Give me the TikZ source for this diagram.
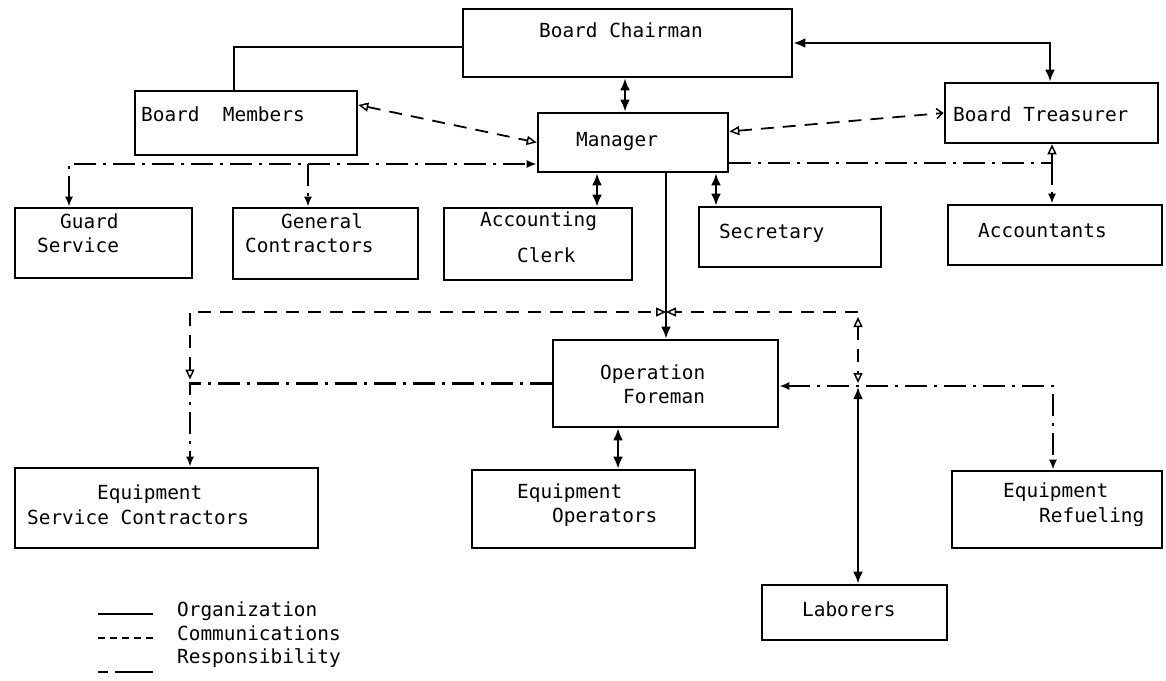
\documentclass[tikz,border=0pt]{standalone}
\usepackage{fontspec}
\newfontfamily\monof{DejaVu Sans Mono}
\usetikzlibrary{arrows.meta}
\begin{document}
\begin{tikzpicture}[x=1pt,y=-1pt,
  box/.style={draw=black, line width=2.6pt, inner sep=0pt},
  txt/.style={anchor=mid west, inner sep=0pt, font=\monof\fontsize{19.4pt}{24pt}\selectfont},
  org/.style={line width=2.6pt},
  comm/.style={line width=1.8pt, dash pattern=on 13pt off 9pt},
  resp/.style={line width=2.1pt, dash pattern=on 22pt off 7pt on 3pt off 7pt},
  ftip/.tip={Latex[length=12pt,width=10pt]},
  rtip/.tip={Latex[length=10pt,width=8pt]},
  otip/.tip={Triangle[open,length=10pt,width=9pt,line width=1.5pt]},
  btip/.tip={Straight Barb[length=6pt,width=10pt,line width=1.5pt]}]
\fill[white] (0,0) rectangle (1166,680);
\useasboundingbox (0,0) rectangle (1166,680);

% boxes
\node[box, minimum width=329pt, minimum height=68pt] (chair) at (627.5,43) {};
\node[box, minimum width=222pt, minimum height=64pt] (bm) at (246,123) {};
\node[box, minimum width=190pt, minimum height=59pt] (mgr) at (633,142.5) {};
\node[box, minimum width=213pt, minimum height=60pt] (treas) at (1051.5,113) {};
\node[box, minimum width=177pt, minimum height=70pt] (guard) at (103.5,243) {};
\node[box, minimum width=185pt, minimum height=71pt] (genc) at (325.5,243.5) {};
\node[box, minimum width=188pt, minimum height=72pt] (acct) at (538,244) {};
\node[box, minimum width=182pt, minimum height=60pt] (sec) at (790,237) {};
\node[box, minimum width=214pt, minimum height=60pt] (accts) at (1055,235) {};
\node[box, minimum width=225pt, minimum height=87pt] (fore) at (665.5,383.5) {};
\node[box, minimum width=303pt, minimum height=80pt] (esc) at (166.5,508) {};
\node[box, minimum width=223pt, minimum height=78pt] (eqop) at (583.5,509) {};
\node[box, minimum width=210pt, minimum height=77pt] (refuel) at (1057,509.5) {};
\node[box, minimum width=185pt, minimum height=55pt] (lab) at (854.5,612.5) {};

% texts
\node[txt] (tchair) at (539,35) {Board Chairman};
\node[txt] (tbm) at (141,119) {Board\ \ Members};
\node[txt] (tmgr) at (576,144) {Manager};
\node[txt] (ttreas) at (953,119) {Board Treasurer};
\node[txt] (tguard1) at (60,226) {Guard};
\node[txt] (tguard2) at (37,250) {Service};
\node[txt] (tgenc1) at (281,226) {General};
\node[txt] (tgenc2) at (245,250) {Contractors};
\node[txt] (tacct1) at (480,224) {Accounting};
\node[txt] (tacct2) at (517,260) {Clerk};
\node[txt] (tsec) at (719,236) {Secretary};
\node[txt] (taccts) at (978,235) {Accountants};
\node[txt] (tfore1) at (600,377) {Operation};
\node[txt] (tfore2) at (623,401) {Foreman};
\node[txt] (tesc1) at (97,497) {Equipment};
\node[txt] (tesc2) at (27,522) {Service Contractors};
\node[txt] (teqop1) at (517,496) {Equipment};
\node[txt] (teqop2) at (552,520) {Operators};
\node[txt] (tref1) at (1003,495) {Equipment};
\node[txt] (tref2) at (1039,520) {Refueling};
\node[txt] (tlab) at (802,614) {Laborers};

% junctions
\coordinate (jL) at (69,164);
\coordinate (jG) at (308,164);
\coordinate (jR) at (1052,163);
\coordinate (jM) at (666,312);
\coordinate (jCL) at (190,312);
\coordinate (jCR) at (858,312);
\coordinate (jRL) at (190,383.5);
\coordinate (jRR) at (1053,386);
\coordinate (jLab) at (858,387);

% organization
\draw[org] ([yshift=-4pt]chair.west) -| ([xshift=-12pt]bm.north);
\draw[org, ftip-ftip] ([xshift=-8pt]mgr.north |- chair.south) -- ([xshift=-8pt]mgr.north);
\draw[org, ftip-ftip] (chair.east) -| ([xshift=-1.5pt]treas.north);
\draw[org, ftip-ftip] ([xshift=-36pt]mgr.south) -- ([xshift=-36pt]mgr.south |- acct.north);
\draw[org, ftip-ftip] ([xshift=83pt]mgr.south) -- ([xshift=83pt]mgr.south |- sec.north);
\draw[org, -ftip] (jM |- mgr.south) -- (jM |- fore.north);
\draw[org, ftip-ftip] (jLab) -- (jLab |- lab.north);
\draw[org, ftip-ftip] ([xshift=-47.5pt]fore.south) -- ([xshift=-47.5pt]fore.south |- eqop.north);

% communications
\draw[comm, otip-otip] ([yshift=18pt]bm.east) -- (mgr.west);
\draw[comm, otip-btip] ([yshift=11pt]mgr.east) -- (treas.west);
\draw[comm, otip-otip] ([yshift=4pt]jRL) -- (jCL) -- (jM);
\draw[comm, -otip] (jCR) -- (jM);
\draw[comm, otip-otip] ([yshift=-5pt]jCR) -- ([yshift=4pt]jLab);

% responsibility
\draw[resp, rtip-rtip] (jL |- guard.north) -- (jL) -- (jL -| mgr.west);
\draw[resp, -rtip] (jG) -- (jG |- genc.north);
\draw[resp] (mgr.east |- jR) -- (jR);
\draw[resp, -otip] (jR) -- (jR |- treas.south);
\draw[resp, -rtip] (jR) -- (jR |- accts.north);
\draw[resp, -rtip] (fore.west) -- (jRL) -- (jRL |- esc.north);
\draw[resp, rtip-rtip] (fore.east |- jRR) -- (jRR) -- (jRR |- refuel.north);

% legend
\node[txt] (lorg) at (177,614) {Organization};
\node[txt] (lcom) at (177,638) {Communications};
\node[txt] (lres) at (177,661) {Responsibility};
\draw[line width=1.2pt] ([xshift=-24pt]lorg.mid west) -- ++(-55pt,0);
\draw[line width=1.2pt, dash pattern=on 7pt off 5pt] ([xshift=-24pt]lcom.mid west) -- ++(-55pt,0);
\draw[line width=1.2pt, dash pattern=on 38pt off 7pt on 10pt off 20pt] ([xshift=-24pt,yshift=-11pt]lres.mid west) -- ++(-55pt,0);
\end{tikzpicture}
\end{document}
